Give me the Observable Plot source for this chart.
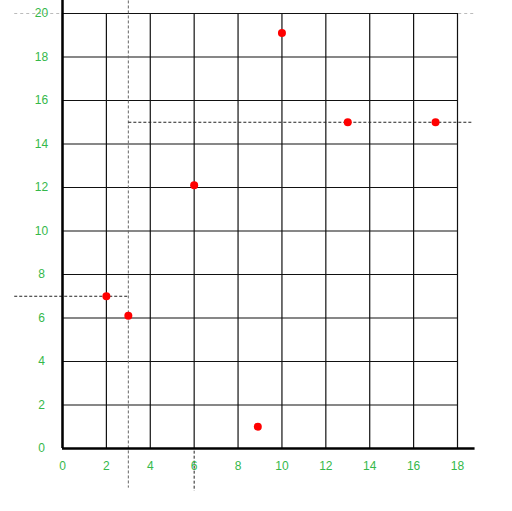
<!DOCTYPE html>
<html><head><meta charset="utf-8">
<script src="https://cdn.jsdelivr.net/npm/d3@7"></script>
<script src="https://cdn.jsdelivr.net/npm/@observablehq/plot@0.6"></script>
<style>body{margin:0;background:#fff}</style>
</head><body><div id="chart"></div>
<script>
const xs = [2, 3, 6, 8.9, 10, 13, 17];
const ys = [7, 6.1, 12.1, 1, 19.1, 15, 15];
const xTicks = [0, 2, 4, 6, 8, 10, 12, 14, 16, 18];
const yTicks = [0, 2, 4, 6, 8, 10, 12, 14, 16, 18, 20];
// reference (dashed) lines: [x1, y1, x2, y2]
const hLines = [[-2.2, 7, 3, 7], [3, 15, 18.7, 15]];
const vLines = [[6, -0.1, 6, -1.95]];
const grayV = [[3, 20.6, 3, -1.8]];
const grayH = [[-2.2, 20, 18.8, 20]];

const pts = xs.map((x, i) => ({x, y: ys[i]}));
const seg = a => a.map(([x1, y1, x2, y2]) => ({x1, y1, x2, y2}));
const green = "#35b84a";

const chart = Plot.plot({
  width: 512, height: 511,
  marginLeft: 62, marginRight: 55, marginTop: 13, marginBottom: 63,
  x: {domain: [0, 18], axis: null},
  y: {domain: [0, 20], axis: null},
  style: {fontFamily: "Liberation Sans, Arial, sans-serif", fontSize: "12px", background: "#fff"},
  marks: [
    Plot.link(seg(grayH), {x1: "x1", y1: "y1", x2: "x2", y2: "y2", stroke: "#bbb", strokeDasharray: "3,3"}),
    Plot.ruleX(xTicks, {y1: 0, y2: 20, stroke: "#111", strokeWidth: 1.2}),
    Plot.ruleY(yTicks, {x1: 0, x2: 18, stroke: "#111", strokeWidth: 1.2}),
    Plot.link(seg(grayV), {x1: "x1", y1: "y1", x2: "x2", y2: "y2", stroke: "#666", strokeDasharray: "3,2"}),
    Plot.link(seg(hLines), {x1: "x1", y1: "y1", x2: "x2", y2: "y2", stroke: "#222", strokeDasharray: "3,2"}),
    Plot.link(seg(vLines), {x1: "x1", y1: "y1", x2: "x2", y2: "y2", stroke: "#222", strokeDasharray: "3,2"}),
    Plot.ruleX([0], {y1: 0, y2: 20.6, stroke: "#000", strokeWidth: 2.5}),
    Plot.ruleY([0], {x1: 0, x2: 18.8, stroke: "#000", strokeWidth: 2.5}),
    Plot.dot(pts, {x: "x", y: "y", r: 4, fill: "#ff0000", stroke: "none"}),
    Plot.text(xTicks, {x: d => d, y: 0, dy: 18, text: d => String(d), fill: green, textAnchor: "middle"}),
    Plot.text(yTicks, {x: 0, y: d => d, dx: -21, text: d => String(d), fill: green, textAnchor: "middle"})
  ]
});
document.getElementById("chart").appendChild(chart);
</script>
</body></html>
